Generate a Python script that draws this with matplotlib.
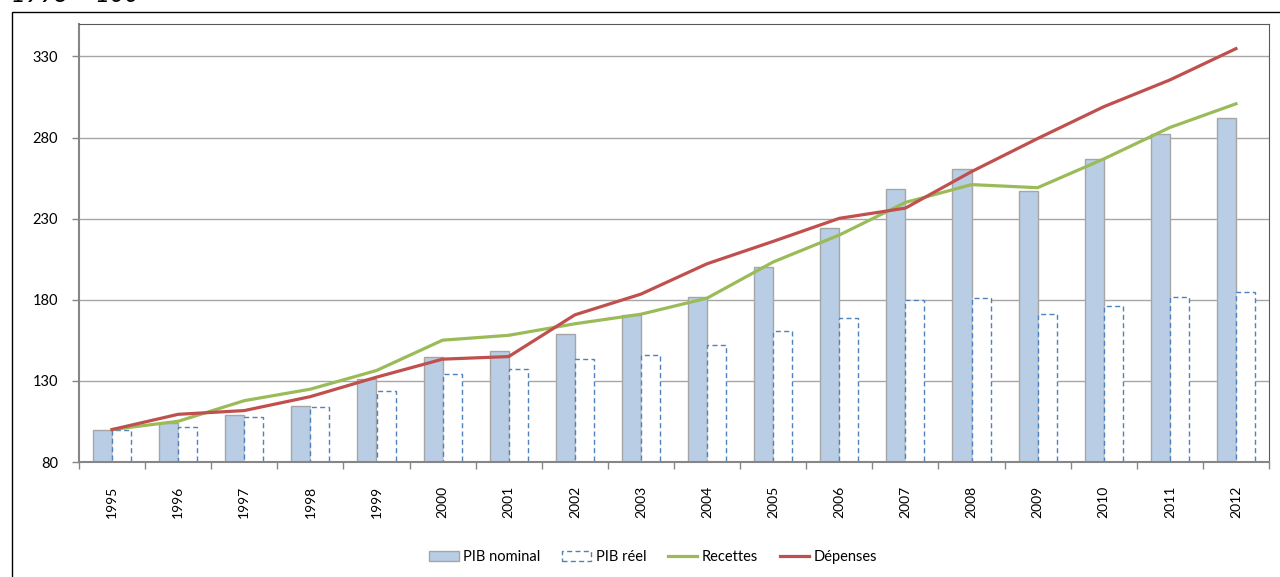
import matplotlib
matplotlib.use("Agg")
import matplotlib.pyplot as plt
import numpy as np
from matplotlib.patches import Rectangle

plt.rcParams['font.family'] = ['Lato', 'DejaVu Sans']

years = [str(y) for y in range(1995, 2013)]
pib_nominal = [100, 104.3, 108.8, 114.8, 131.4, 145.0, 148.7, 158.8, 170.7, 181.6,
               200.1, 224.2, 248.0, 260.9, 247.3, 266.6, 282.5, 292.2]
pib_reel = [100, 101.4, 107.6, 114.2, 124.0, 134.5, 137.6, 143.2, 145.9, 152.0,
            160.6, 168.9, 179.7, 181.0, 171.2, 176.1, 181.7, 185.1]
recettes = [100, 105.1, 117.8, 124.9, 136.4, 155.1, 158.1, 165.2, 171.1, 181.0,
            203.3, 219.9, 240.0, 251.0, 249.1, 266.8, 286.2, 300.8]
depenses = [100, 109.4, 111.7, 120.3, 132.3, 143.4, 145.0, 170.7, 183.5, 202.2,
            216.0, 230.2, 236.5, 259.0, 279.4, 299.0, 315.5, 334.8]
yticks = [80, 130, 180, 230, 280, 330]

W, H = 1280, 577
fig = plt.figure(figsize=(W / 100, H / 100), dpi=100)
ax = fig.add_axes([79 / W, 1 - 462 / H, (1269 - 79) / W, (462 - 24) / H])

x = np.arange(len(years))
bw = 0.288
b1 = ax.bar(x - bw / 2, pib_nominal, width=bw, color='#B9CDE5',
            edgecolor='#A6A6A6', linewidth=1.0, label='PIB nominal', zorder=2)
b2 = ax.bar(x + bw / 2, pib_reel, width=bw, color='white', edgecolor='#4F81BD',
            linewidth=1.0, linestyle=(0, (3.6, 2.4)), label='PIB réel', zorder=2)
l1, = ax.plot(x, recettes, color='#9BBB59', linewidth=2.3, label='Recettes', zorder=3,
              solid_joinstyle='round')
l2, = ax.plot(x, depenses, color='#C0504D', linewidth=2.3, label='Dépenses', zorder=4,
              solid_joinstyle='round')

ax.set_xlim(-0.5, len(years) - 0.5)
ax.set_ylim(80, 350)
ax.set_yticks(yticks)
ax.set_yticklabels([str(v) for v in yticks], fontsize=10.5)
ax.yaxis.grid(True, color='#A6A6A6', linewidth=1.0)
ax.set_axisbelow(True)
ax.tick_params(axis='y', direction='out', length=5, width=1, color='#868686', pad=10)

ax.set_xticks(x)
ax.set_xticklabels(years, rotation=90, fontsize=10)
ax.tick_params(axis='x', which='major', length=0, pad=17)
ax.set_xticks(np.arange(-0.5, len(years) + 0.5, 1), minor=True)
ax.tick_params(axis='x', which='minor', direction='out', length=5, width=1,
               color='#868686')

for s in ['left', 'bottom']:
    ax.spines[s].set_color('#868686')
    ax.spines[s].set_linewidth(1.5)
for s in ['top', 'right']:
    ax.spines[s].set_color('#595959')
    ax.spines[s].set_linewidth(0.8)

leg = fig.legend([b1, b2, l1, l2], ['PIB nominal', 'PIB réel', 'Recettes', 'Dépenses'],
                 loc='center', bbox_to_anchor=(653 / W, 1 - 557 / H), ncol=4,
                 frameon=False, fontsize=10.5, handlelength=2.0, handletextpad=0.3,
                 columnspacing=1.5, handleheight=0.65)

# outer chart frame (partly outside the image)
fig.patches.append(Rectangle((11.5 / W, -0.2), 1.2, 1.2 - 11.5 / H,
                             transform=fig.transFigure, fill=False,
                             edgecolor='black', linewidth=1.0))

fig.text(11 / W, 1 - 2 / H, '1995 = 100', fontsize=18, style='italic',
         va='baseline', ha='left')

fig.savefig('out.png', dpi=100)
